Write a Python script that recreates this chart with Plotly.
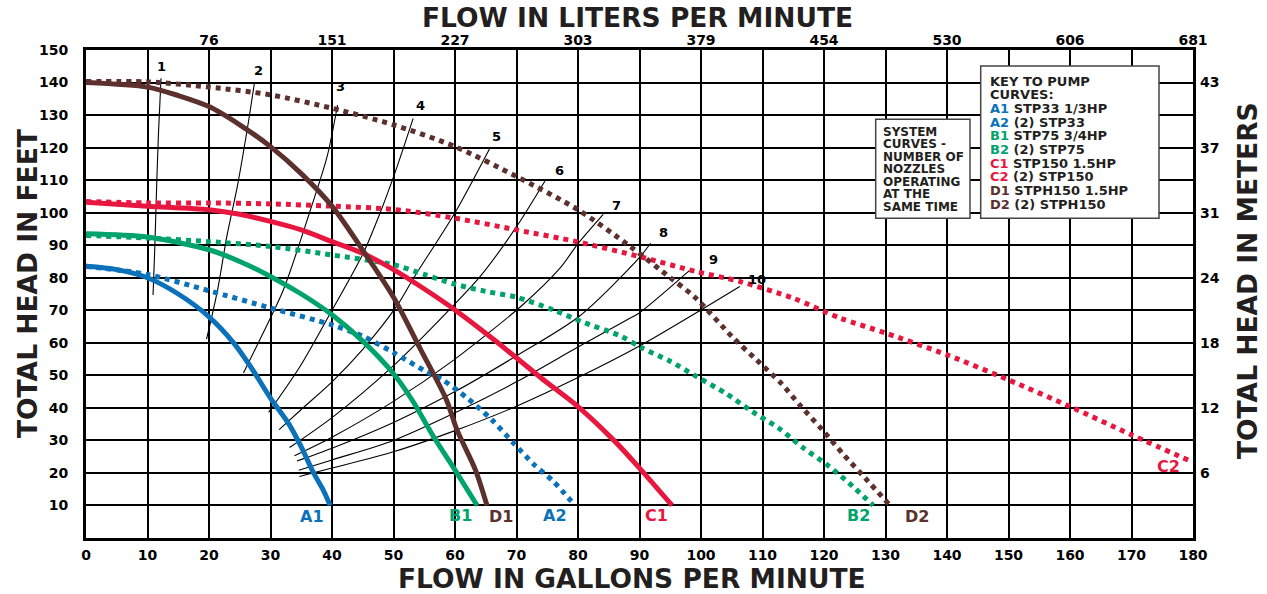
import plotly.graph_objects as go

# ---------------- data ----------------
A1_gpm = [0, 5, 10, 15, 20, 24, 27, 30, 33, 35, 37, 38.5, 39.7]
A1_ft = [83.5, 82.5, 80, 75, 68, 60, 52, 43, 35, 28, 20, 15, 10]

A2_gpm = [0, 10, 20, 30, 40, 45, 50, 55, 58, 62, 66, 69.5, 73, 76, 79.5]
A2_ft = [83.5, 81, 76, 70.7, 65.5, 62, 57, 51.5, 48.6, 43, 36.3, 29.2, 22.3, 17.4, 10]

B1_gpm = [0, 10, 20, 25, 30, 35, 40, 45, 50, 53, 56.5, 60.3, 63.6]
B1_ft = [93.5, 92.5, 88.6, 85, 80.4, 75, 68.6, 60.5, 50.5, 42.5, 31.2, 20, 10]

B2_gpm = [0, 10, 20, 30, 40, 50, 55, 60, 65, 70, 76, 80.6, 87, 90.4, 95, 99.3, 104,
          108.3, 112.6, 116.7, 120.5, 124, 128]
B2_ft = [93, 92.2, 91.1, 89.6, 87, 84, 81, 78, 75.8, 74, 70.1, 66.5, 62, 58.4, 54.3, 49.6,
         44.5, 38.9, 33.8, 27.6, 22.5, 17, 10]

C1_gpm = [0, 10, 20, 25, 30, 35, 40, 45, 50, 54.4, 60, 66.3, 74, 80, 86, 90, 95.3]
C1_ft = [103.2, 102, 100.9, 99.5, 97.3, 94.7, 91.1, 87.5, 82.5, 77.3, 70.1, 61, 49.2, 40.4,
         29.7, 21.5, 10]

C2_gpm = [0, 10, 20, 30, 40, 50, 60, 70, 80, 90, 99, 106.4, 115, 122.6, 130, 140, 150,
          160, 170, 180]
C2_ft = [103.4, 103, 103, 102.7, 102, 101, 98.3, 94.7, 91, 86.5, 82, 78.8, 73.7, 67.6, 63,
         56.3, 48.6, 40.4, 31.7, 23.3]

D1_gpm = [0, 10, 15, 20, 25, 30, 35, 40, 45.7, 50, 54.4, 58.6, 60.3, 63.3, 65.2]
D1_ft = [140, 138.6, 136, 132.6, 127, 120.3, 112, 102, 86.5, 74, 58, 42.5, 33.3, 21, 10]

D2_gpm = [0, 10, 20, 30, 40, 50, 60, 70, 80, 88.5, 95, 99, 105.3, 109, 113, 116, 119.7,
          123.2, 126.7, 130.5]
D2_ft = [140.3, 140.2, 138.6, 136.2, 132.1, 127, 120.3, 111.1, 100.9, 89.6, 80, 74, 61.4,
         54.8, 47.6, 41, 33.3, 25.6, 18.4, 10.5]

# system curves (number of nozzles)
S1_gpm = [10.9, 11.2, 11.5, 11.8, 12.2]
S1_ft = [74.7, 90, 109, 125, 141.3]
S2_gpm = [19.6, 21.4, 22.9, 24.6, 26.2, 27.4]
S2_ft = [61.1, 76.3, 92.7, 108, 125.4, 140]
S3_gpm = [25.6, 28.3, 32.1, 36.5, 39.2, 40.9]
S3_ft = [50.7, 61.1, 76.3, 100.9, 117.2, 133.1]
S4_gpm = [29.7, 34.8, 40, 45.1, 47.9, 50.3, 53.2]
S4_ft = [38.6, 52.7, 70, 87.6, 100.3, 112.6, 129]
S5_gpm = [31.4, 35, 40, 45, 50.6, 53.3, 60, 65.6]
S5_ft = [33.3, 39.5, 48, 58, 71.5, 80, 100, 119.6]
S6_gpm = [33.1, 40, 50, 60, 64.1, 70, 74.8]
S6_ft = [27.8, 37, 53, 72, 80.4, 95.7, 110.3]
S7_gpm = [33.9, 40, 50, 60, 71.2, 77.1, 80, 84.1]
S7_ft = [25.3, 31, 42, 55, 72, 83, 90.5, 99.5]
S8_gpm = [34.3, 40, 50, 60, 70, 80.1, 89.9, 91.8]
S8_ft = [23.7, 27.6, 35.5, 45, 56, 68, 86, 90.6]
S9_gpm = [34.6, 40, 50, 60, 70, 80, 88, 89.9, 98.1]
S9_ft = [20.8, 24, 30, 38.5, 48, 58.7, 67.1, 69.1, 82.2]
S10_gpm = [34.7, 40, 50, 60, 70, 80, 90, 100, 106.3]
S10_ft = [18.9, 21.5, 26.5, 33, 40.5, 49.3, 59, 70.1, 77.3]

SYS_LABELS = ["1", "2", "3", "4", "5", "6", "7", "8", "9", "10"]
SYS_LABEL_GPM = [12.3, 28.1, 41.4, 54.4, 66.7, 77.0, 86.2, 93.9, 102.0, 109.1]
SYS_LABEL_FT = [144.9, 143.6, 138.7, 132.8, 123.4, 112.9, 102.2, 94.0, 85.7, 79.6]

CURVE_LABELS = ["A1", "B1", "D1", "A2", "C1", "B2", "D2", "C2"]
CURVE_LABEL_GPM = [36.8, 60.9, 67.4, 76.2, 92.8, 125.6, 135.2, 176.0]
CURVE_LABEL_FT = [6.5, 7.0, 6.7, 7.0, 7.0, 7.0, 6.7, 22.0]

GPM_TICKS = list(range(0, 190, 10))
FT_TICKS = list(range(10, 160, 10))
LPM_TICK_GPM = [20, 40, 60, 80, 100, 120, 140, 160, 180]
LPM_TICK_TEXT = ["76", "151", "227", "303", "379", "454", "530", "606", "681"]
M_TICK_FT = [20, 40, 60, 80, 100, 120, 140]
M_TICK_TEXT = ["6", "12", "18", "24", "31", "37", "43"]

KEY_LINES = [
    ("", "KEY TO PUMP"), ("", "CURVES:"),
    ("A1", " STP33 1/3HP"), ("A2", " (2) STP33"),
    ("B1", " STP75 3/4HP"), ("B2", " (2) STP75"),
    ("C1", " STP150 1.5HP"), ("C2", " (2) STP150"),
    ("D1", " STPH150 1.5HP"), ("D2", " (2) STPH150"),
]
SYSTEM_BOX_LINES = ["SYSTEM", "CURVES -", "NUMBER OF", "NOZZLES", "OPERATING",
                    "AT THE", "SAME TIME"]

# ---------------- style ----------------
BLUE = "#0b72b9"
GREEN = "#00a36c"
RED = "#e8173f"
BROWN = "#5b302d"
INK = "#231f20"
FONT = "DejaVu Sans"
COLORS = {"A": BLUE, "B": GREEN, "C": RED, "D": BROWN}

fig = go.Figure()

# system curves (thin black)
sys_x = [S1_gpm, S2_gpm, S3_gpm, S4_gpm, S5_gpm, S6_gpm, S7_gpm, S8_gpm, S9_gpm, S10_gpm]
sys_y = [S1_ft, S2_ft, S3_ft, S4_ft, S5_ft, S6_ft, S7_ft, S8_ft, S9_ft, S10_ft]
for xs, ys in zip(sys_x, sys_y):
    fig.add_trace(go.Scatter(x=xs, y=ys, mode="lines",
                             line=dict(color="black", width=1.1, shape="spline", smoothing=0.8),
                             showlegend=False, hoverinfo="skip"))

pumps = [
    (A2_gpm, A2_ft, BLUE, "dot"), (B2_gpm, B2_ft, GREEN, "dot"),
    (C2_gpm, C2_ft, RED, "dot"), (D2_gpm, D2_ft, BROWN, "dot"),
    (A1_gpm, A1_ft, BLUE, "solid"), (B1_gpm, B1_ft, GREEN, "solid"),
    (C1_gpm, C1_ft, RED, "solid"), (D1_gpm, D1_ft, BROWN, "solid"),
]
for xs, ys, col, dash in pumps:
    fig.add_trace(go.Scatter(x=xs, y=ys, mode="lines",
                             line=dict(color=col, width=5, dash=dash, shape="spline", smoothing=0.8),
                             showlegend=False, hoverinfo="skip"))

# invisible trace for secondary axes
fig.add_trace(go.Scatter(x=[0, 180], y=[0, 150], xaxis="x2", yaxis="y2", mode="markers",
                         marker=dict(opacity=0), showlegend=False, hoverinfo="skip"))

annotations = []
for t, gx, gy in zip(SYS_LABELS, SYS_LABEL_GPM, SYS_LABEL_FT):
    annotations.append(dict(x=gx, y=gy, xref="x", yref="y", text=t, showarrow=False,
                            xanchor="center", yanchor="middle",
                            font=dict(family=FONT, size=13, color="black", weight="bold")))
for t, gx, gy in zip(CURVE_LABELS, CURVE_LABEL_GPM, CURVE_LABEL_FT):
    annotations.append(dict(x=gx, y=gy, xref="x", yref="y", text=t, showarrow=False,
                            xanchor="center", yanchor="middle",
                            font=dict(family=FONT, size=16, color=COLORS[t[0]], weight="bold")))

PLOT_L, PLOT_T, PLOT_W, PLOT_H = 86, 50, 1107, 488


def px2paper(px, py):
    return (px - PLOT_L) / PLOT_W, (PLOT_T + PLOT_H - py) / PLOT_H


# axis titles
title_font = dict(family=FONT, size=26.5, color=INK, weight="bold")
for text, (cx, cy), ang in [
    ("FLOW IN LITERS PER MINUTE", (637, 18), 0),
    ("FLOW IN GALLONS PER MINUTE", (632, 578), 0),
    ("TOTAL HEAD IN FEET", (27, 284), -90),
    ("TOTAL HEAD IN METERS", (1247, 281), -90),
]:
    px, py = px2paper(cx, cy)
    annotations.append(dict(x=px, y=py, xref="paper", yref="paper", text=text,
                            showarrow=False, textangle=ang, xanchor="center",
                            yanchor="middle", font=title_font))

# key box text
for i, (code, rest) in enumerate(KEY_LINES):
    px, py = px2paper(988.3, 81 + i * 13.7)
    if code:
        txt = f"<span style='color:{COLORS[code[0]]}'>{code}</span>{rest}"
    else:
        txt = rest
    annotations.append(dict(x=px, y=py, xref="paper", yref="paper", text=txt, showarrow=False,
                            xanchor="left", yanchor="middle",
                            font=dict(family=FONT, size=13, color=INK, weight="bold")))
for i, line in enumerate(SYSTEM_BOX_LINES):
    px, py = px2paper(880.7, 131.7 + i * 12.5)
    annotations.append(dict(x=px, y=py, xref="paper", yref="paper", text=line, showarrow=False,
                            xanchor="left", yanchor="middle",
                            font=dict(family=FONT, size=12, color=INK, weight="bold")))

kx0, ky0 = px2paper(980.7, 66)
kx1, ky1 = px2paper(1159, 218.3)
sx0, sy0 = px2paper(875.7, 119.3)
sx1, sy1 = px2paper(970, 218.3)
shapes = [
    dict(type="rect", xref="paper", yref="paper", x0=kx0, y0=ky1, x1=kx1, y1=ky0,
         line=dict(color="#444444", width=1.5), fillcolor="white", layer="above"),
    dict(type="rect", xref="paper", yref="paper", x0=sx0, y0=sy1, x1=sx1, y1=sy0,
         line=dict(color="#444444", width=1.5), fillcolor="white", layer="above"),
]

tick_font = dict(family=FONT, size=14, color="black", weight="bold")

fig.update_layout(
    width=1267, height=594,
    margin=dict(l=PLOT_L, r=1267 - PLOT_L - PLOT_W, t=PLOT_T, b=594 - PLOT_T - PLOT_H),
    paper_bgcolor="white", plot_bgcolor="white",
    showlegend=False,
    xaxis=dict(range=[0, 180], tickvals=GPM_TICKS, ticktext=[str(v) for v in GPM_TICKS],
               showgrid=True, gridcolor="black", gridwidth=1.5, zeroline=False,
               showline=True, linecolor="black", linewidth=3, mirror=True,
               ticks="", ticklabelstandoff=2, tickfont=tick_font, fixedrange=True),
    yaxis=dict(range=[0, 150], tickvals=FT_TICKS, ticktext=[str(v) for v in FT_TICKS],
               showgrid=True, gridcolor="black", gridwidth=1.5, zeroline=False,
               showline=True, linecolor="black", linewidth=3, mirror=True,
               ticks="", ticklabelstandoff=12, tickfont=tick_font, fixedrange=True),
    xaxis2=dict(range=[0, 180], overlaying="x", side="top", tickvals=LPM_TICK_GPM,
                ticktext=LPM_TICK_TEXT, showgrid=False, zeroline=False, showline=False,
                ticks="", ticklabelstandoff=1, tickfont=tick_font, fixedrange=True),
    yaxis2=dict(range=[0, 150], overlaying="y", side="right", tickvals=M_TICK_FT,
                ticktext=M_TICK_TEXT, showgrid=False, zeroline=False, showline=False,
                ticks="", ticklabelstandoff=6, tickfont=tick_font, fixedrange=True),
    annotations=annotations,
    shapes=shapes,
)

fig.write_html("out.html", config={"displayModeBar": False},
               post_script="document.body.style.margin='0';document.body.style.overflow='hidden';")
